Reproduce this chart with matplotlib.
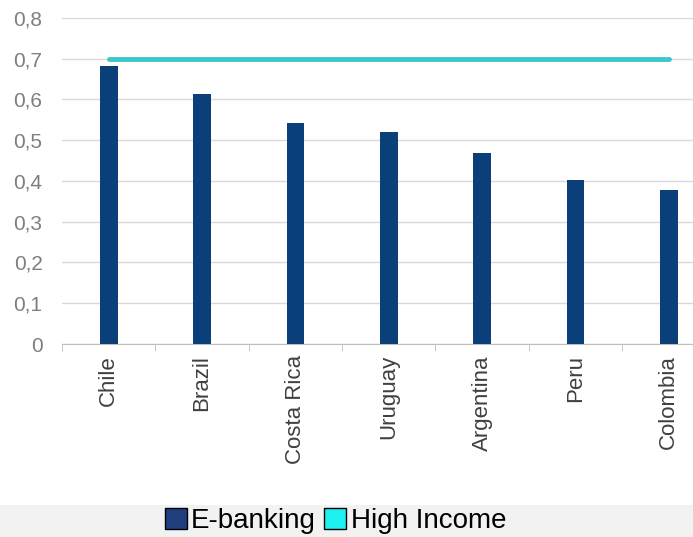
import matplotlib.pyplot as plt
import numpy as np
from matplotlib.patches import Patch, Rectangle

plt.rcParams['font.family'] = ['Liberation Sans', 'DejaVu Sans']

countries = ['Chile', 'Brazil', 'Costa Rica', 'Uruguay', 'Argentina', 'Peru', 'Colombia']
ebanking = [0.682, 0.613, 0.543, 0.520, 0.469, 0.403, 0.378]
high_income = [0.70, 0.70, 0.70, 0.70, 0.70, 0.70, 0.70]
yticks = [0, 0.1, 0.2, 0.3, 0.4, 0.5, 0.6, 0.7, 0.8]
ytick_labels = ['0', '0,1', '0,2', '0,3', '0,4', '0,5', '0,6', '0,7', '0,8']

bar_col = '#0B3F7A'
line_col = '#3CC8C8'

fig = plt.figure(figsize=(6.93, 5.37), dpi=100)
# grey band under the legend
fig.patches.append(Rectangle((0, 0), 1, 0.06, transform=fig.transFigure,
                             fc='#F2F2F2', ec='none', zorder=0))

ax = fig.add_axes([0.0895, 0.3594, 0.9105, 0.6071])
x = np.arange(len(countries))
ax.bar(x, ebanking, width=0.19, color=bar_col, zorder=3)
ax.plot(x, high_income, color=line_col, lw=3.5, solid_capstyle='round', zorder=4)

ax.set_yticks(yticks)
ax.set_yticklabels(ytick_labels)
ax.set_xticks(x)
ax.set_xticklabels(countries, rotation=90, fontsize=16, color='#404040')
ax.set_xticks(np.arange(-0.5, len(countries), 1), minor=True)
ax.set_xlim(-0.5, 6.26)
ax.set_ylim(0, 0.8)
ax.tick_params(axis='x', which='major', length=0, pad=8)
ax.tick_params(axis='x', which='minor', length=5, color='#BFBFBF', direction='out')
ax.tick_params(axis='y', length=0, labelsize=15, labelcolor='#7F7F7F', pad=14)
ax.grid(axis='y', color='#D9D9D9', lw=1, zorder=0)
for s in ['top', 'right', 'left']:
    ax.spines[s].set_visible(False)
ax.spines['bottom'].set_color('#BFBFBF')

handles = [Patch(fc='#1F3F7F', ec='black', lw=1, label='E-banking'),
           Patch(fc='#1EF0F0', ec='black', lw=1, label='High Income')]
fig.legend(handles=handles, loc='center', bbox_to_anchor=(0.484, 0.03),
           ncol=2, frameon=False, fontsize=20, handlelength=0.8, handleheight=0.8,
           handletextpad=0.15, columnspacing=0.3, borderaxespad=0)

fig.savefig('out.png', dpi=100)
